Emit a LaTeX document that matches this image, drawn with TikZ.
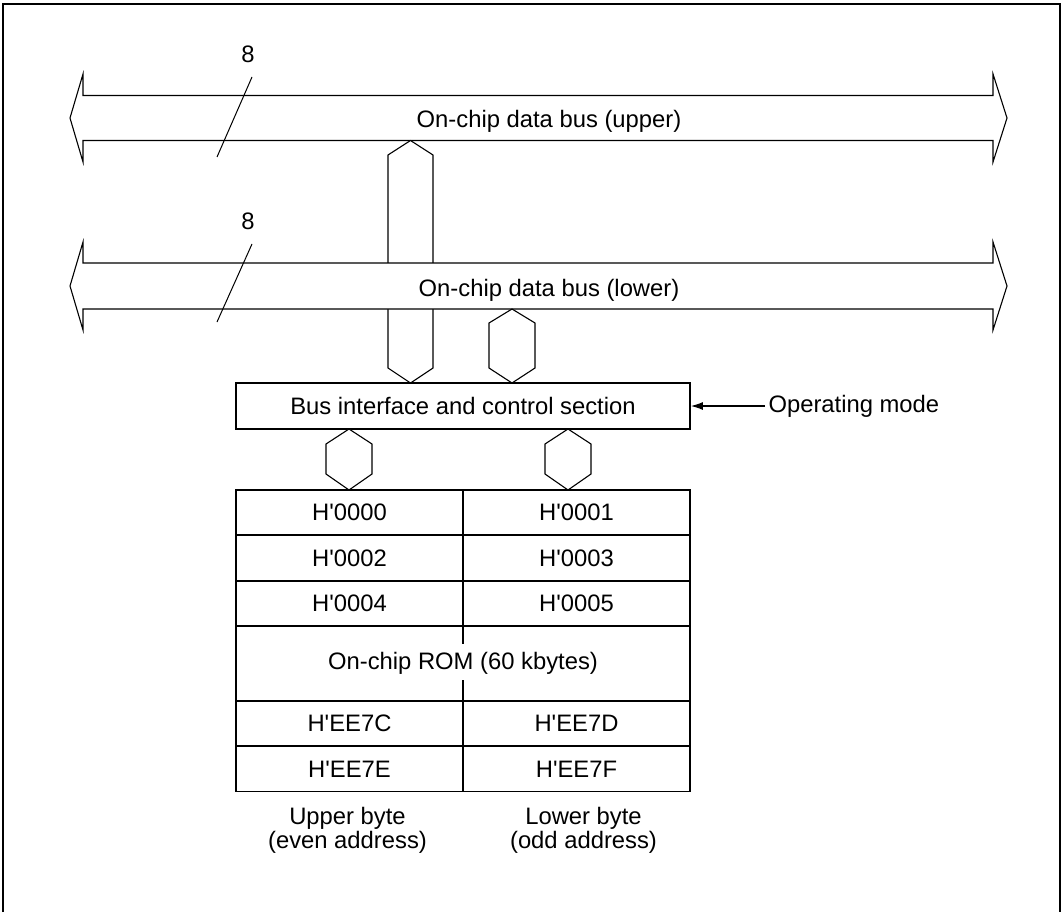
\documentclass[tikz,border=0pt]{standalone}
\usepackage{fontspec}
\setmainfont{Liberation Sans}[Ligatures=TeXOff]
\usetikzlibrary{arrows.meta, positioning}

\begin{document}
\begin{tikzpicture}[
  x=1pt, y=-1pt,
  font=\fontsize{23.8pt}{24pt}\selectfont,
  bus/.style={draw, line width=1.1pt, fill=white, line join=miter},
  cell/.style={draw, line width=1.8pt, minimum width=227pt, minimum height=45.3pt, inner sep=0pt, outer sep=0pt},
  section/.style={draw, line width=1.8pt, minimum width=454pt, minimum height=46pt, inner sep=0pt},
  caption/.style={align=center},
  slash/.style={line width=1pt},
  arrow/.style={-{Latex[length=12pt, width=8pt]}, line width=1.1pt}
]
\useasboundingbox (0,0) rectangle (1064,912);
\draw[line width=2pt] (3,912) |- (1060,4) -- (1060,912);

% upper bus
\draw[bus] (83,95.5) -- (993,95.5) -- (993,74) -- (1007,118) -- (993,162) -- (993,140.5)
  -- (83,140.5) -- (83,162) -- (70,118) -- (83,74) -- cycle;
\node[anchor=base] (upper) at (549,128) {On-chip data bus (upper)};
\draw[slash] (252,77) -- (217,157);
\node[anchor=base] (wupper) at (248,63) {8};

% wide bus from the upper bus
\draw[bus] (410.5,140.5) -- (433,155) -- (433,368) -- (410.5,383) -- (388,368) -- (388,155) -- cycle;

% lower bus
\draw[bus] (83,263) -- (993,263) -- (993,242) -- (1007,286) -- (993,330) -- (993,309)
  -- (83,309) -- (83,330) -- (70,286) -- (83,242) -- cycle;
\node[anchor=base] (lower) at (549,296) {On-chip data bus (lower)};
\draw[slash] (252,244) -- (217,322);
\node[anchor=base] (wlower) at (248,229) {8};

\draw[bus] (512,309) -- (535,323) -- (535,368) -- (512,383) -- (489,368) -- (489,323) -- cycle;

% bus interface
\node[section] (bic) at (463,406) {Bus interface and control section};
\node[anchor=west] (mode) at (765,406) {Operating mode};
\draw[arrow] (mode.west) -- (bic.east);

\draw[bus] (349,429) -- (372,444) -- (372,474) -- (349,490) -- (326,474) -- (326,444) -- cycle;
\draw[bus] (568,429) -- (591,444) -- (591,474) -- (568,490) -- (545,474) -- (545,444) -- cycle;

% ROM map
\node[cell] (r0l) at (349.5,512.65) {H'0000};
\node[cell, right=0pt of r0l] (r0r) {H'0001};
\node[cell, below=0pt of r0l] (r1l) {H'0002};
\node[cell, right=0pt of r1l] (r1r) {H'0003};
\node[cell, below=0pt of r1l] (r2l) {H'0004};
\node[cell, right=0pt of r2l] (r2r) {H'0005};
\node[cell, minimum width=454pt, minimum height=75pt, anchor=north] (rom) at (r2l.south east) {On-chip ROM (60 kbytes)};
\draw[line width=1.8pt] (rom.north) -- ++(0,18);
\draw[line width=1.8pt] (rom.south) -- ++(0,-21);
\node[cell, anchor=north west] (r3l) at (rom.south west) {H'EE7C};
\node[cell, right=0pt of r3l] (r3r) {H'EE7D};
\node[cell, below=0pt of r3l] (r4l) {H'EE7E};
\node[cell, right=0pt of r4l] (r4r) {H'EE7F};

\node[caption, below=12pt of r4l, xshift=-2pt] (even) {Upper byte\\(even address)};
\node[caption, below=12pt of r4r, xshift=7pt] (odd) {Lower byte\\(odd address)};
\end{tikzpicture}
\end{document}
